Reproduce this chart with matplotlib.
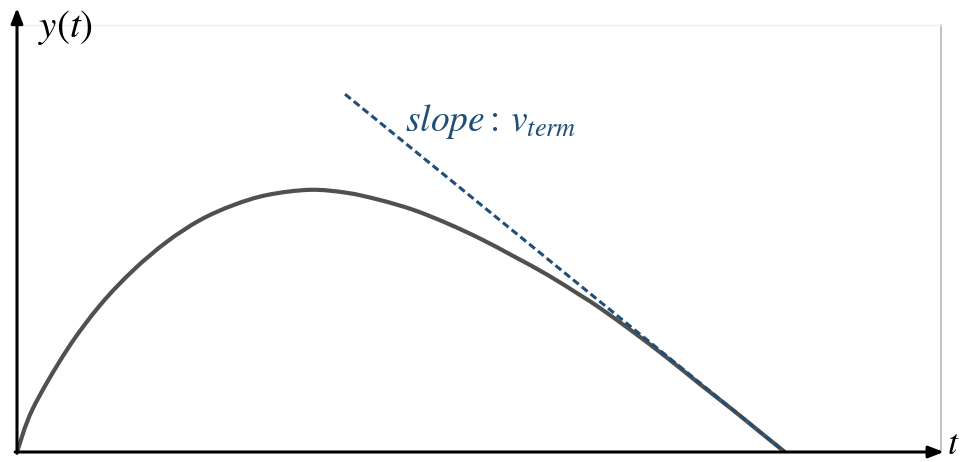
import matplotlib
matplotlib.use("Agg")
import matplotlib.pyplot as plt
from matplotlib.path import Path
from matplotlib.patches import PathPatch
import numpy as np

plt.rcParams["mathtext.fontset"] = "stix"

# Height of a projectile with air drag, y(t)
t_vals = [0.00, 0.17, 0.54, 0.90, 1.26, 1.62, 1.98, 2.34, 2.71, 3.17,
          3.57, 3.93, 4.29, 4.65, 5.01, 5.37, 5.74, 6.09, 6.31, 6.67,
          7.04, 7.39, 7.75, 8.04, 8.31]
y_vals = [0.00, 1.01, 2.39, 3.44, 4.26, 4.92, 5.43, 5.78, 6.02, 6.14,
          6.07, 5.90, 5.67, 5.36, 5.00, 4.59, 4.15, 3.68, 3.37, 2.81,
          2.20, 1.59, 0.98, 0.47, 0.00]

# Asymptote with slope v_term
asym_t = [3.55, 8.31]
asym_y = [8.38, 0.00]

curve_color = "#505050"
asym_color = "#1f4e79"


def smooth_path(xs, ys):
    """Smoothed line through the given points (cubic Bezier segments)."""
    p = np.column_stack([xs, ys])
    n = len(p)
    verts = [p[0]]
    codes = [Path.MOVETO]
    for i in range(n - 1):
        p0 = p[i - 1] if i > 0 else p[i]
        p3 = p[i + 2] if i + 2 < n else p[i + 1]
        c1 = p[i] + (p[i + 1] - p0) / 6.0
        c2 = p[i + 1] - (p3 - p[i]) / 6.0
        verts += [c1, c2, p[i + 1]]
        codes += [Path.CURVE4] * 3
    return Path(verts, codes)


fig = plt.figure(figsize=(9.68, 4.62), dpi=100)
W, H = 968, 462
ax = fig.add_axes([17 / W, 10 / H, 924 / W, 427 / H])
ax.set_xlim(0, 10)
ax.set_ylim(0, 10)

ax.add_patch(PathPatch(smooth_path(t_vals, y_vals), facecolor="none",
                       edgecolor=curve_color, lw=3.0, capstyle="round",
                       zorder=3))
ax.plot(asym_t, asym_y, color=asym_color, lw=2.2, dashes=(2.4, 1.3),
        zorder=4)

# Frame: faint top, grey right edge
for side in ("left", "bottom"):
    ax.spines[side].set_visible(False)
ax.spines["top"].set_color("#eeeeee")
ax.spines["top"].set_linewidth(1.0)
ax.spines["right"].set_color("#b5b5b5")
ax.spines["right"].set_linewidth(1.2)
ax.set_xticks([])
ax.set_yticks([])

# Arrowed axes
arrow_kw = dict(arrowstyle="-|>,head_length=0.9,head_width=0.35",
                color="black", lw=2.2, shrinkA=0, shrinkB=0)
ax.annotate("", xy=(0, 1.04), xycoords="axes fraction",
            xytext=(0, -0.003), textcoords="axes fraction",
            arrowprops=arrow_kw, annotation_clip=False, zorder=5)
ax.annotate("", xy=(1.003, 0), xycoords="axes fraction",
            xytext=(-0.002, 0), textcoords="axes fraction",
            arrowprops=arrow_kw, annotation_clip=False, zorder=5)

ax.text(0.23, 9.93, r"$y(t)$", fontsize=28, ha="left", va="center",
        clip_on=False)
ax.text(10.07, -0.2, r"$t$", fontsize=26, ha="left", va="bottom",
        clip_on=False)
ax.text(4.2, 7.75, r"$slope{:}\,v_{term}$", fontsize=27, color=asym_color,
        ha="left", va="center")

fig.savefig("out.png", dpi=100, facecolor="white")
